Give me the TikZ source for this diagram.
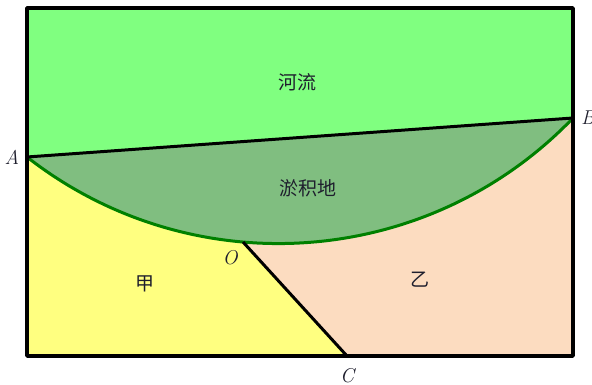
\documentclass[tikz,border=0pt]{standalone}
\usepackage{fontspec}
\newfontfamily\cjk{Noto Sans CJK SC}
\definecolor{river}{RGB}{128,255,128}
\definecolor{silt}{RGB}{128,190,128}
\definecolor{plotjia}{RGB}{255,255,128}
\definecolor{plotyi}{RGB}{252,220,192}
\definecolor{arcgreen}{RGB}{0,128,0}
\definecolor{labelink}{RGB}{30,30,45}
\tikzset{
  ptlabel/.style={font=\fontsize{20}{24}\selectfont\itshape, text=labelink, inner sep=0pt},
  arealabel/.style={font=\cjk\fontsize{19}{22}\selectfont, text=labelink, inner sep=0pt},
}
\begin{document}
\begin{tikzpicture}[x=1pt, y=1pt, line join=round]
  \useasboundingbox (0,0) rectangle (592,385);
  % --- frame and key points ---
  \coordinate (bl) at (27,29);
  \coordinate (br) at (573,29);
  \coordinate (tr) at (573,377);
  \coordinate (tl) at (27,377);
  \coordinate (A) at (27,228);
  \coordinate (B) at (573,267);
  \coordinate (O) at (243,143);
  \coordinate (C) at (347,29);

  % === regions ===
  \fill[river] (tl) -- (tr) -- (B) -- (A) -- cycle;
  \fill[plotyi] (A) -- (B) -- (br) -- (bl) -- cycle;
  \fill[plotjia] (A) arc[start angle=232.0, end angle=265.03, radius=408.4] -- (C) -- (bl) -- cycle;
  \fill[silt] (A) arc[start angle=232.0, end angle=316.16, radius=408.4] -- cycle;

  % === boundaries ===
  \draw[arcgreen, line width=3pt] (A) arc[start angle=232.0, end angle=316.16, radius=408.4];
  \draw[line width=3pt] (A) -- (B);
  \draw[line width=3pt] (O) -- (C);
  \draw[line width=3.5pt] (bl) rectangle (tr);

  % === labels ===
  \node[ptlabel] (lA) at (12,228) {A};
  \node[ptlabel] (lB) at (588,267) {B};
  \node[ptlabel] (lO) at (230,127) {O};
  \node[ptlabel] (lC) at (347,9) {C};
  \node[arealabel] (river) at (297,303) {河流};
  \node[arealabel] (silt) at (308,197) {淤积地};
  \node[arealabel] (jia) at (145,101) {甲};
  \node[arealabel] (yi) at (420,105) {乙};
\end{tikzpicture}
\end{document}
